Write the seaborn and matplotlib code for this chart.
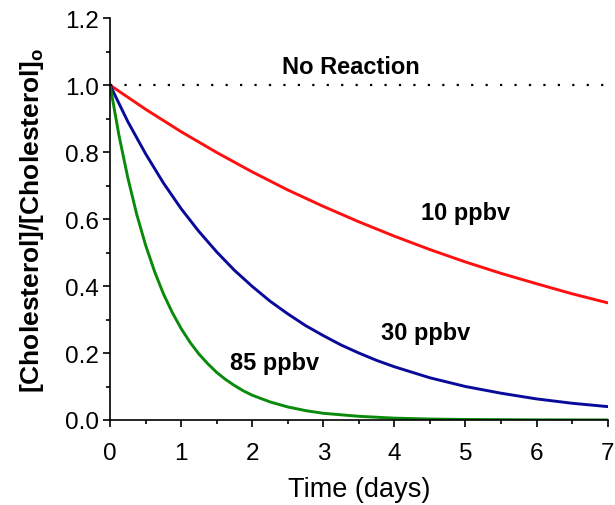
import matplotlib
matplotlib.use("Agg")
import matplotlib.pyplot as plt
import seaborn as sns
import pandas as pd
from matplotlib.ticker import MultipleLocator

# Data
t_red = [0, 0.5, 1, 1.5, 2, 2.5, 3, 3.5, 4, 4.5, 5, 5.5, 6, 6.5, 7]
y_red = [1.0, 0.928, 0.861, 0.799, 0.741, 0.687, 0.638, 0.592, 0.549, 0.509, 0.472, 0.438, 0.407, 0.377, 0.350]

t_blue = [0, 0.25, 0.5, 0.75, 1, 1.25, 1.5, 1.75, 2, 2.25, 2.5, 2.75, 3, 3.25, 3.5, 3.75, 4, 4.5, 5, 5.5, 6, 6.5, 7]
y_blue = [1.0, 0.891, 0.795, 0.708, 0.631, 0.563, 0.502, 0.447, 0.399, 0.355, 0.317, 0.282, 0.252, 0.224,
          0.200, 0.178, 0.159, 0.126, 0.100, 0.080, 0.063, 0.050, 0.040]

t_green = [0, 0.125, 0.25, 0.375, 0.5, 0.625, 0.75, 0.875, 1, 1.125, 1.25, 1.375, 1.5, 1.625, 1.75, 1.875,
           2, 2.25, 2.5, 2.75, 3, 3.5, 4, 4.5, 5, 6, 7]
y_green = [1.0, 0.850, 0.723, 0.614, 0.522, 0.444, 0.377, 0.321, 0.273, 0.232, 0.197, 0.168, 0.142, 0.121,
           0.103, 0.087, 0.074, 0.054, 0.039, 0.028, 0.020, 0.011, 0.0055, 0.0029, 0.0015, 0.0004, 0.0001]

t_none = [0, 7]
y_none = [1.0, 1.0]

labels = ["10 ppbv", "30 ppbv", "85 ppbv"]

sns.set_style("ticks")
plt.rcParams['font.family'] = ['Liberation Sans', 'DejaVu Sans']
plt.rcParams['mathtext.fontset'] = 'custom'
plt.rcParams['mathtext.bf'] = 'Liberation Sans:bold'
plt.rcParams['mathtext.rm'] = 'Liberation Sans'
plt.rcParams['text.color'] = 'black'
plt.rcParams['axes.labelcolor'] = 'black'

fig = plt.figure(figsize=(6.15, 5.06), dpi=100)
ax = fig.add_axes([0.179, 0.168, 0.809, 0.794])

df = pd.concat([
    pd.DataFrame({"t": t_red, "y": y_red, "s": labels[0]}),
    pd.DataFrame({"t": t_blue, "y": y_blue, "s": labels[1]}),
    pd.DataFrame({"t": t_green, "y": y_green, "s": labels[2]}),
])
pal = {labels[0]: "#ff1010", labels[1]: "#0a0a9a", labels[2]: "#0a8a0a"}
sns.lineplot(data=df, x="t", y="y", hue="s", palette=pal, linewidth=2.1, ax=ax, legend=False, sort=False)
ax.plot(t_none, y_none, linestyle=(0, (1, 5.5)), color="black", linewidth=1.6)

ax.set_xlim(0, 7)
ax.set_ylim(0, 1.2)
ax.xaxis.set_major_locator(MultipleLocator(1))
ax.xaxis.set_minor_locator(MultipleLocator(0.5))
ax.yaxis.set_major_locator(MultipleLocator(0.2))
ax.yaxis.set_minor_locator(MultipleLocator(0.1))
ax.set_yticklabels([f"{v:.1f}" for v in ax.get_yticks()])
ax.tick_params(which="major", direction="out", length=5, width=1.2, labelsize=17.5, color="black", labelcolor="black")
ax.tick_params(axis="y", which="major", pad=3)
ax.tick_params(axis="x", which="major", pad=10.5)
ax.tick_params(which="minor", direction="out", length=3, width=1.2, color="black")
for s in ["left", "bottom"]:
    ax.spines[s].set_linewidth(1.2)
    ax.spines[s].set_color("black")
sns.despine(ax=ax)

ax.set_xlabel("Time (days)", fontsize=19.5, labelpad=9, color="black")
ax.set_ylabel(r"[Cholesterol]/[Cholesterol]$_{\mathbf{o}}$", fontsize=19, fontweight="bold", labelpad=14, color="black")

ax.text(3.39, 1.057, "No Reaction", fontsize=17, fontweight="bold", ha="center", va="center", color="black")
ax.text(5.0, 0.62, labels[0], fontsize=17, fontweight="bold", ha="center", va="center", color="black")
ax.text(4.44, 0.26, labels[1], fontsize=17, fontweight="bold", ha="center", va="center", color="black")
ax.text(2.31, 0.173, labels[2], fontsize=17, fontweight="bold", ha="center", va="center", color="black")

fig.savefig("out.png", dpi=100)
